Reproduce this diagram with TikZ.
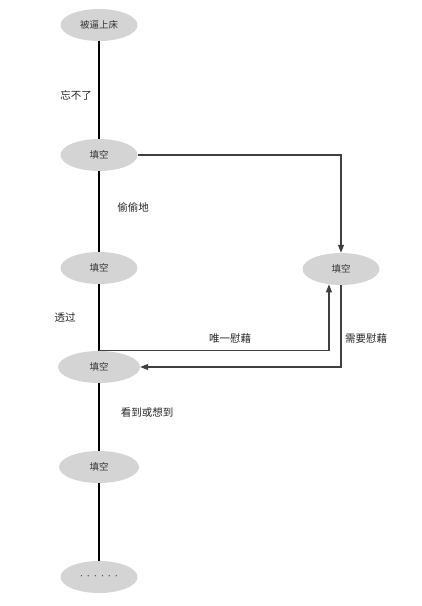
\documentclass[tikz,border=0pt]{standalone}
\usepackage{fontspec}
\newfontfamily\cjk{Noto Sans CJK SC}
\usetikzlibrary{shapes.geometric,arrows.meta}
\tikzset{
  state/.style={ellipse, fill=black!17, draw=none, minimum width=77pt, minimum height=32pt, inner sep=0pt, font=\cjk\fontsize{9.5}{10}\selectfont, text=black!80},
  lbl/.style={font=\cjk\fontsize{10.5}{12}\selectfont, text=black!85, inner sep=0pt},
  mainline/.style={line width=1.7pt, black},
  side/.style={line width=1.1pt, black!75},
  tip/.style={-{Triangle[length=8pt,width=6pt]}}
}
\begin{document}
\begin{tikzpicture}[x=1pt,y=-1pt]
\useasboundingbox (0,0) rectangle (421,606);
\node[state] (n1) at (99,25) {被逼上床};
\node[state] (n2) at (99,155) {填空};
\node[state] (n3) at (99,268) {填空};
\node[state] (r)  at (341,269) {填空};
\node[state, minimum width=82pt] (n4) at (99,367) {填空};
\node[state, minimum width=80pt] (n5) at (99,467) {填空};
\node[state] (n6) at (99,577) {\fontsize{6}{7}\selectfont ·\hspace{1pt}·\hspace{1pt}·\hspace{1pt}·\hspace{1pt}·\hspace{1pt}·};
\draw[mainline] (n1) -- (n2);
\draw[mainline] (n2) -- (n3);
\draw[mainline] (n3) -- (n4);
\draw[mainline] (n4) -- (n5);
\draw[mainline] (n5) -- (n6);
\draw[side, tip] (n2.east) -| (r.north);
\draw[side, tip] (n4.north) -| (r.232);
\draw[side, tip] (r.south) |- (n4.east);
\node[lbl] (l1) at (76,95) {忘不了};
\node[lbl] (l2) at (133,207) {偷偷地};
\node[lbl] (l3) at (65,318) {透过};
\node[lbl] (l4) at (230,339) {唯一慰藉};
\node[lbl] (l5) at (366,339) {需要慰藉};
\node[lbl] (l6) at (147,413) {看到或想到};
\end{tikzpicture}
\end{document}
